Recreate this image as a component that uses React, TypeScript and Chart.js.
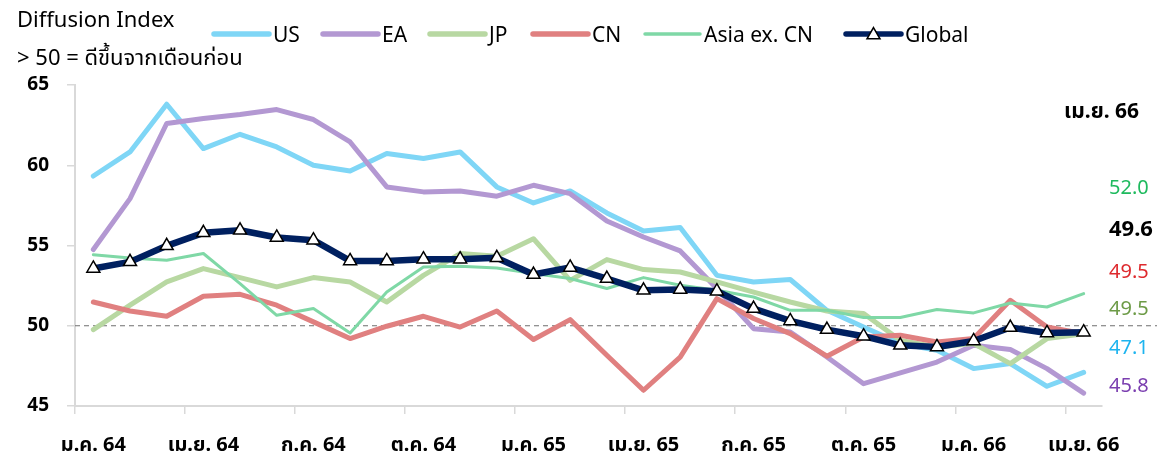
import { useEffect, useRef } from 'react';
import { Chart, registerables } from 'chart.js';

Chart.register(...registerables);

const FONT = "'Noto Sans', 'Noto Sans Thai', Tahoma, 'DejaVu Sans', sans-serif";

// Thai month abbreviations and Buddhist-era years (short form)
const monthNames = ['ม.ค.', 'ก.พ.', 'มี.ค.', 'เม.ย.', 'พ.ค.', 'มิ.ย.', 'ก.ค.', 'ส.ค.', 'ก.ย.', 'ต.ค.', 'พ.ย.', 'ธ.ค.'];
const years = ['64', '65', '66'];
const monthCount = 28; // ม.ค. 64 .. เม.ย. 66

const categories: string[] = [];
for (let i = 0; i < monthCount; i++) {
  categories.push(`${monthNames[i % 12]} ${years[Math.floor(i / 12)]}`);
}

// Diffusion index values (> 50 = improved from previous month)
const usValues = [59.33, 60.83, 63.8, 61.04, 61.93, 61.14, 60.0, 59.64, 60.73, 60.42, 60.83, 58.65, 57.65, 58.4, 57.03, 55.9, 56.12, 53.14, 52.73, 52.88, 50.96, 49.92, 48.89, 48.47, 47.33, 47.64, 46.23, 47.1];
const eaValues = [54.75, 57.92, 62.6, 62.91, 63.16, 63.47, 62.85, 61.45, 58.65, 58.34, 58.4, 58.07, 58.75, 58.23, 56.53, 55.53, 54.66, 52.32, 49.82, 49.61, 48.05, 46.39, 47.06, 47.74, 48.78, 48.52, 47.33, 45.8];
const jpValues = [49.76, 51.28, 52.73, 53.56, 53.0, 52.42, 53.0, 52.73, 51.48, 53.14, 54.5, 54.33, 55.42, 52.83, 54.12, 53.5, 53.35, 52.73, 52.1, 51.48, 50.92, 50.76, 49.09, 48.68, 48.89, 47.64, 49.2, 49.5];
const cnValues = [51.48, 50.92, 50.59, 51.84, 51.96, 51.28, 50.24, 49.2, 49.97, 50.59, 49.92, 50.92, 49.14, 50.38, 48.16, 45.98, 48.05, 51.69, 50.45, 49.51, 48.1, 49.3, 49.41, 48.99, 49.2, 51.59, 49.92, 49.5];
const asiaValues = [54.43, 54.22, 54.08, 54.5, 52.63, 50.65, 51.07, 49.55, 52.1, 53.66, 53.71, 53.6, 53.25, 52.94, 52.32, 53.0, 52.52, 52.21, 51.79, 50.96, 50.96, 50.51, 50.51, 51.01, 50.8, 51.42, 51.17, 52.0];
const globalValues = [53.57, 53.98, 54.98, 55.79, 55.95, 55.5, 55.33, 54.04, 54.04, 54.15, 54.15, 54.23, 53.19, 53.63, 52.94, 52.21, 52.26, 52.15, 51.07, 50.3, 49.76, 49.35, 48.78, 48.68, 49.05, 49.89, 49.55, 49.6];

const yTicks = [45, 50, 55, 60, 65];
const threshold = 50;

const titleLines = ['Diffusion Index', '> 50 = ดีขึ้นจากเดือนก่อน'];
const latestLabel = 'เม.ย. 66';

type Series = {
  name: string;
  values: number[];
  color: string;
  width: number;
  labelColor: string;
  marker?: boolean;
};

const series: Series[] = [
  { name: 'US', values: usValues, color: '#7fd6f6', width: 5, labelColor: '#1db4ef' },
  { name: 'EA', values: eaValues, color: '#b398d2', width: 5, labelColor: '#7b3fb0' },
  { name: 'JP', values: jpValues, color: '#b8d8a2', width: 5, labelColor: '#6d9b47' },
  { name: 'CN', values: cnValues, color: '#e08080', width: 5, labelColor: '#de2a2e' },
  { name: 'Asia ex. CN', values: asiaValues, color: '#7fd8a6', width: 3, labelColor: '#1fba5e' },
  { name: 'Global', values: globalValues, color: '#002060', width: 6.5, labelColor: '#000000', marker: true },
];

// Right-hand column of latest values, top to bottom
const latestOrder = ['Asia ex. CN', 'Global', 'CN', 'JP', 'US', 'EA'];
const latestY = [188, 230, 272, 309, 348, 386];

// Legend entries: line start x for each series
const legendX = [214, 323, 430, 533, 645, 846];
const legendLineLen = 55;
const legendY = 34;

function drawTriangle(ctx: CanvasRenderingContext2D, x: number, y: number, r: number) {
  ctx.beginPath();
  for (let k = 0; k < 3; k++) {
    const a = (k * 2 * Math.PI) / 3;
    const px = x + Math.sin(a) * r;
    const py = y - Math.cos(a) * r;
    if (k === 0) ctx.moveTo(px, py);
    else ctx.lineTo(px, py);
  }
  ctx.closePath();
  ctx.fillStyle = '#ffffff';
  ctx.fill();
  ctx.lineWidth = 1.5;
  ctx.strokeStyle = '#000000';
  ctx.stroke();
}

const thresholdLine = {
  id: 'thresholdLine',
  beforeDatasetsDraw(chart: any) {
    const { ctx, chartArea, scales } = chart;
    const y = scales.y.getPixelForValue(threshold);
    ctx.save();
    ctx.strokeStyle = '#6f6f6f';
    ctx.lineWidth = 1.2;
    ctx.setLineDash([5, 4]);
    ctx.beginPath();
    ctx.moveTo(chartArea.left, y);
    ctx.lineTo(1157, y);
    ctx.stroke();
    ctx.restore();
  },
};

const annotations = {
  id: 'annotations',
  afterDraw(chart: any) {
    const { ctx } = chart;
    ctx.save();
    ctx.textBaseline = 'middle';
    ctx.textAlign = 'left';

    // Title
    ctx.fillStyle = '#000000';
    ctx.font = `22px ${FONT}`;
    ctx.fillText(titleLines[0], 17, 21);
    ctx.fillText(titleLines[1], 17, 59);

    // Legend
    series.forEach((s, i) => {
      const x0 = legendX[i];
      ctx.strokeStyle = s.color;
      ctx.lineWidth = s.name === 'Asia ex. CN' ? 3.5 : 5.5;
      ctx.lineCap = 'round';
      ctx.beginPath();
      ctx.moveTo(x0, legendY);
      ctx.lineTo(x0 + legendLineLen, legendY);
      ctx.stroke();
      if (s.marker) drawTriangle(ctx, x0 + legendLineLen / 2, legendY + 1, 7.5);
      ctx.fillStyle = '#000000';
      ctx.font = `21px ${FONT}`;
      ctx.fillText(s.name, x0 + legendLineLen + 4, legendY + 2);
    });

    // Latest values column
    ctx.fillStyle = '#000000';
    ctx.font = `bold 21px ${FONT}`;
    ctx.fillText(latestLabel, 1064, 112);
    latestOrder.forEach((name, i) => {
      const s = series.find((d) => d.name === name)!;
      const v = s.values[s.values.length - 1];
      ctx.fillStyle = s.labelColor;
      ctx.font = name === 'Global' ? `bold 22px ${FONT}` : `20px ${FONT}`;
      ctx.fillText(v.toFixed(1), 1109, latestY[i]);
    });
    ctx.restore();
  },
};

export default function App() {
  const canvasRef = useRef<HTMLCanvasElement | null>(null);

  useEffect(() => {
    const canvas = canvasRef.current;
    if (!canvas) return;
    const datasets = series.map((s, i) => ({
      label: s.name,
      data: s.values,
      borderColor: s.color,
      backgroundColor: s.color,
      borderWidth: s.width,
      borderCapStyle: 'round' as const,
      borderJoinStyle: 'round' as const,
      tension: 0,
      fill: false,
      pointRadius: s.marker ? 7.5 : 0,
      pointHoverRadius: s.marker ? 7.5 : 0,
      pointStyle: 'triangle' as const,
      pointBackgroundColor: '#ffffff',
      pointBorderColor: '#000000',
      pointBorderWidth: 1.5,
      order: series.length - 1 - i,
    }));

    const chart = new Chart(canvas, {
      type: 'line',
      data: { labels: categories, datasets },
      options: {
        responsive: false,
        animation: false,
        devicePixelRatio: 1,
        layout: { padding: { top: 85, right: 56, left: 0, bottom: 0 } },
        plugins: {
          legend: { display: false },
          title: { display: false },
          tooltip: { enabled: false },
        },
        scales: {
          x: {
            type: 'category',
            offset: true,
            afterFit: (scale: any) => {
              scale.height = 51;
            },
            grid: {
              offset: true,
              drawOnChartArea: false,
              drawTicks: true,
              tickLength: 8,
              lineWidth: 1.5,
              color: (ctx: any) => (ctx.index % 3 === 0 ? '#d9d9d9' : 'rgba(0,0,0,0)'),
            },
            border: { display: true, color: '#d9d9d9', width: 2 },
            ticks: {
              autoSkip: false,
              maxRotation: 0,
              minRotation: 0,
              padding: 19,
              color: '#000000',
              font: { family: FONT, size: 20, weight: 'bold' },
              callback: (_v: any, i: number) => (i % 3 === 0 ? categories[i] : ''),
            },
          },
          y: {
            min: yTicks[0],
            max: yTicks[yTicks.length - 1],
            afterFit: (scale: any) => {
              scale.width = 75;
            },
            afterBuildTicks: (scale: any) => {
              scale.ticks = yTicks.map((v) => ({ value: v }));
            },
            grid: {
              drawOnChartArea: false,
              drawTicks: true,
              tickLength: 8,
              lineWidth: 1.5,
              color: '#d9d9d9',
            },
            border: { display: true, color: '#d9d9d9', width: 2 },
            ticks: {
              padding: 18,
              color: '#000000',
              font: { family: FONT, size: 19, weight: 'bold' },
            },
          },
        },
      },
      plugins: [thresholdLine, annotations],
    });
    return () => chart.destroy();
  }, []);

  return (
    <canvas
      ref={canvasRef}
      width={1158}
      height={457}
      style={{ position: 'absolute', left: 0, top: 0, display: 'block' }}
    />
  );
}
